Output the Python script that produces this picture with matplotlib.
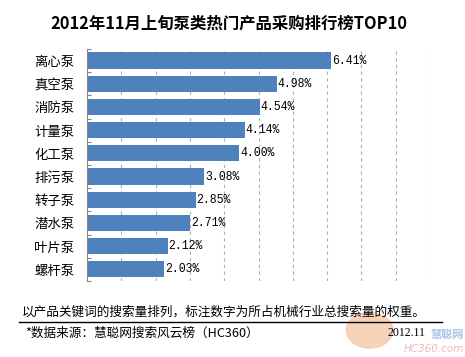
import matplotlib.pyplot as plt
from matplotlib.patches import Circle
import numpy as np

plt.rcParams['font.family'] = ['Noto Sans CJK SC', 'DejaVu Sans']

categories = ["离心泵", "真空泵", "消防泵", "计量泵", "化工泵",
              "排污泵", "转子泵", "潜水泵", "叶片泵", "螺杆泵"]
values = [6.41, 4.98, 4.54, 4.14, 4.00, 3.08, 2.85, 2.71, 2.12, 2.03]
labels = ["6.41%", "4.98%", "4.54%", "4.14%", "4.00%",
          "3.08%", "2.85%", "2.71%", "2.12%", "2.03%"]
title = "2012年11月上旬泵类热门产品采购排行榜TOP10"
note = "以产品关键词的搜索量排列，标注数字为所占机械行业总搜索量的权重。"
source = "*数据来源：慧聪网搜索风云榜（HC360）"
date = "2012.11"

fig = plt.figure(figsize=(4.65, 3.57), dpi=100)
fig.patch.set_facecolor("white")
ax = fig.add_axes([0.187, 0.213, 0.738, 0.650])

y = np.arange(len(categories))
ax.barh(y, values, height=0.7, color="#4f81bd")
for yi, v, lab in zip(y, values, labels):
    ax.text(v + 0.02, yi, lab, va="center", ha="left",
            fontsize=8.3, family="Liberation Mono")

ax.set_xlim(0, 9)
ax.set_ylim(len(categories) - 0.5, -0.5)
ax.set_xticks(np.arange(0.9, 9.01, 0.9))
ax.tick_params(axis="x", length=0, labelbottom=False)
ax.xaxis.grid(True, linestyle=(0, (3, 3)), color="#b0b0b0", linewidth=0.8)
ax.set_axisbelow(True)

ax.set_yticks(y)
ax.set_yticklabels(categories, fontsize=9.6)
ax.set_yticks(np.arange(-0.5, len(categories)), minor=True)
ax.tick_params(axis="y", which="major", length=0, pad=9)
ax.tick_params(axis="y", which="minor", direction="in", length=3,
               color="#868686", width=0.8)

for s in ["top", "right", "bottom"]:
    ax.spines[s].set_visible(False)
ax.spines["left"].set_color("#868686")
ax.spines["left"].set_linewidth(0.8)

fig.text(0.492, 0.933, title, ha="center", va="center",
         fontsize=11.8, fontweight="bold")
fig.text(0.047, 0.127, note, ha="left", va="center", fontsize=9.1)
fig.add_artist(plt.Line2D([0.04, 0.95], [0.097, 0.097],
                          transform=fig.transFigure, color="black", linewidth=1))

# watermark logo, kept clear of the other texts
fig.add_artist(Circle((0.795, 0.075), 0.05, transform=fig.transFigure,
                      color="#f6c9a8", alpha=0.8, zorder=0))
fig.text(0.997, 0.062, "慧聪网", ha="right", va="center", fontsize=8,
         color="#a9c3e6", style="italic", fontweight="bold", zorder=0)
fig.text(0.997, 0.022, "HC360.com", ha="right", va="center", fontsize=7.5,
         color="#f0b8b8", style="italic", zorder=0,
         family=["DejaVu Sans"])

fig.text(0.055, 0.067, source, ha="left", va="center", fontsize=9.1)
fig.text(0.834, 0.067, date, ha="left", va="center", fontsize=8.5,
         family="Liberation Serif")

fig.savefig("out.png", dpi=100)
